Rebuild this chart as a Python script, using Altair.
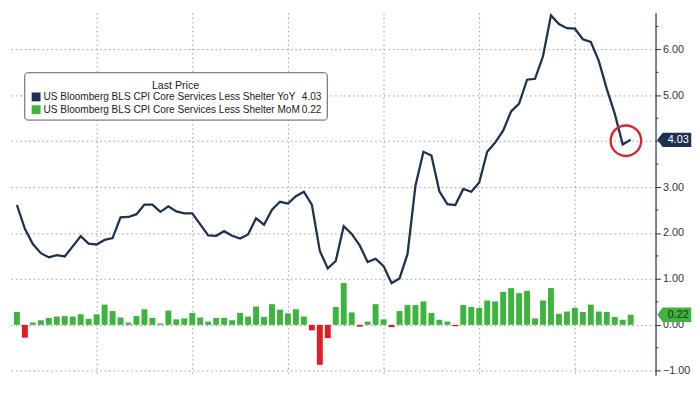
import altair as alt
import pandas as pd

# ---- data (monthly, oldest first) ----
yoy = [2.61, 2.09, 1.76, 1.56, 1.47, 1.52, 1.49, 1.71, 1.93, 1.77,
       1.75, 1.85, 1.89, 2.34, 2.35, 2.41, 2.62, 2.62, 2.46, 2.58,
       2.47, 2.43, 2.43, 2.19, 1.95, 1.94, 2.04, 1.94, 1.88, 1.97,
       2.32, 2.18, 2.51, 2.68, 2.64, 2.80, 2.90, 2.62, 1.61, 1.23,
       1.39, 2.15, 1.98, 1.73, 1.37, 1.44, 1.28, 0.91, 1.01, 1.54,
       3.03, 3.77, 3.69, 2.91, 2.63, 2.61, 2.96, 2.90, 3.10, 3.77,
       3.97, 4.23, 4.65, 4.82, 5.34, 5.36, 5.85, 6.74, 6.55, 6.46,
       6.45, 6.22, 6.16, 5.75, 5.14, 4.60, 3.93, 4.03]
mom = [0.28, -0.28, 0.05, 0.10, 0.15, 0.18, 0.19, 0.18, 0.23, 0.13,
       0.23, 0.44, 0.30, 0.16, 0.05, 0.19, 0.34, 0.15, 0.03, 0.31,
       0.12, 0.14, 0.26, 0.16, 0.07, 0.15, 0.15, 0.10, 0.26, 0.18,
       0.40, 0.17, 0.45, 0.33, 0.25, 0.34, 0.18, -0.12, -0.87, -0.29,
       0.39, 0.91, 0.27, -0.04, 0.07, 0.45, 0.12, -0.05, 0.30, 0.43,
       0.43, 0.51, 0.26, 0.11, 0.07, -0.03, 0.43, 0.39, 0.37, 0.53,
       0.51, 0.72, 0.80, 0.69, 0.74, 0.14, 0.53, 0.80, 0.24, 0.29,
       0.37, 0.28, 0.44, 0.29, 0.28, 0.17, 0.11, 0.22]
year_gridlines = [10, 22, 34, 46, 58, 70]     # month index of the yearly vertical gridlines
y_ticks = [-1, 0, 1, 2, 3, 4, 5, 6]
y_minor = [-0.5, 0.5, 1.5, 2.5, 3.5, 4.5, 5.5, 6.5]
series_names = ["US Bloomberg BLS CPI Core Services Less Shelter YoY",
                "US Bloomberg BLS CPI Core Services Less Shelter MoM"]
last_values = ["4.03", "0.22"]

NAVY = "#1d3150"
GREEN = "#3db53d"
RED = "#e31b23"
GRID = "#9a9a9a"
FONT = "Liberation Sans"

df = pd.DataFrame({"i": list(range(len(yoy))), "yoy": yoy, "mom": mom})
df["sign"] = ["pos" if v >= 0 else "neg" for v in df["mom"]]

xscale = alt.Scale(domain=[-0.5, 79.5], nice=False, zero=False)
yscale = alt.Scale(domain=[-1.1, 6.8], nice=False, zero=False)

xaxis = alt.Axis(values=year_gridlines, grid=True, gridDash=[1.5, 3], gridColor=GRID,
                 gridWidth=1, labels=False, ticks=False, domain=False, title=None)
yaxis = alt.Axis(orient="right", values=y_ticks, format=".2f", grid=True,
                 gridDash=[1.5, 3], gridColor=GRID, gridWidth=1,
                 domainColor=NAVY, domainWidth=1.2, tickColor=NAVY, tickSize=5,
                 labelFont=FONT, labelFontSize=11, labelColor="#333333",
                 labelPadding=2, title=None)

bars = alt.Chart(df).mark_bar(width=6).encode(
    x=alt.X("i:Q", scale=xscale, axis=xaxis),
    y=alt.Y("mom:Q", scale=yscale, axis=yaxis),
    color=alt.Color("sign:N", scale=alt.Scale(domain=["pos", "neg"], range=[GREEN, RED]),
                    legend=None),
)

line = alt.Chart(df).mark_line(color=NAVY, strokeWidth=2.3).encode(
    x=alt.X("i:Q", scale=xscale),
    y=alt.Y("yoy:Q", scale=yscale),
)

minor = alt.Chart(pd.DataFrame({"v": y_minor})).mark_rule(color=NAVY, strokeWidth=1).encode(
    y=alt.Y("v:Q", scale=yscale),
    x=alt.value(657), x2=alt.value(660),
)

circle_df = pd.DataFrame({"i": [(len(yoy) - 2 + len(yoy) - 1) / 2 - 0.1],
                          "v": [(yoy[-1] + yoy[-2]) / 2 + 0.03]})
circle = alt.Chart(circle_df).mark_point(shape="circle", size=960, filled=False,
                                         color="#d7262e", strokeWidth=2.4, opacity=1).encode(
    x=alt.X("i:Q", scale=xscale),
    y=alt.Y("v:Q", scale=yscale),
)

# ---- last-value tags on the right axis ----
tag_path = "M-1,0 L-0.68,-0.42 L1,-0.42 L1,0.42 L-0.68,0.42 Z"
tag_yoy_df = pd.DataFrame({"v": [yoy[-1]], "txt": [last_values[0]]})
tag_mom_df = pd.DataFrame({"v": [mom[-1]], "txt": [last_values[1]]})


def tag_layers(data, fill, text_color):
    shape = alt.Chart(data).mark_point(shape=tag_path, size=1190, filled=True, opacity=1,
                                       fill=fill, strokeWidth=0).encode(
        y=alt.Y("v:Q", scale=yscale),
        x=alt.value(676),
    )
    label = alt.Chart(data).mark_text(font=FONT, fontSize=11, align="center",
                                      baseline="middle", dy=0.5, color=text_color).encode(
        y=alt.Y("v:Q", scale=yscale),
        x=alt.value(680),
        text="txt:N",
    )
    return [shape, label]


tags = tag_layers(tag_yoy_df, NAVY, "#ffffff") + tag_layers(tag_mom_df, GREEN, "#1f2a1f")

# ---- legend box ----
one = pd.DataFrame({"a": [0]})
LFS = 10.2
leg_box = alt.Chart(one).mark_rect(fill="white", stroke="#5a5a5a", strokeWidth=1,
                                   cornerRadius=3).encode(
    x=alt.value(17), x2=alt.value(324), y=alt.value(61), y2=alt.value(109))
leg_title = alt.Chart(one).mark_text(text="Last Price", font=FONT, fontSize=10.8,
                                     color="#1a1a1a", align="center", baseline="middle").encode(
    x=alt.value(170), y=alt.value(74))
leg_sq1 = alt.Chart(one).mark_rect(fill=NAVY).encode(
    x=alt.value(24), x2=alt.value(33), y=alt.value(81), y2=alt.value(90))
leg_sq2 = alt.Chart(one).mark_rect(fill=GREEN).encode(
    x=alt.value(24), x2=alt.value(33), y=alt.value(94), y2=alt.value(103))
leg_t1 = alt.Chart(one).mark_text(text=series_names[0], font=FONT, fontSize=LFS,
                                  color="#1a1a1a", align="left", baseline="middle").encode(
    x=alt.value(36), y=alt.value(86))
leg_t2 = alt.Chart(one).mark_text(text=series_names[1], font=FONT, fontSize=LFS,
                                  color="#1a1a1a", align="left", baseline="middle").encode(
    x=alt.value(36), y=alt.value(99))
leg_v1 = alt.Chart(one).mark_text(text=last_values[0], font=FONT, fontSize=LFS,
                                  color="#1a1a1a", align="right", baseline="middle").encode(
    x=alt.value(318), y=alt.value(86))
leg_v2 = alt.Chart(one).mark_text(text=last_values[1], font=FONT, fontSize=LFS,
                                  color="#1a1a1a", align="right", baseline="middle").encode(
    x=alt.value(318), y=alt.value(99))

chart = alt.layer(
    bars, line, minor, circle, *tags,
    leg_box, leg_title, leg_sq1, leg_sq2, leg_t1, leg_t2, leg_v1, leg_v2,
).properties(
    width=657, height=368,
    padding={"left": 0, "top": 0, "right": 0, "bottom": 0},
    background="white",
).configure_view(stroke=None)

chart.save("out.html", embed_options={"renderer": "svg", "actions": False})
